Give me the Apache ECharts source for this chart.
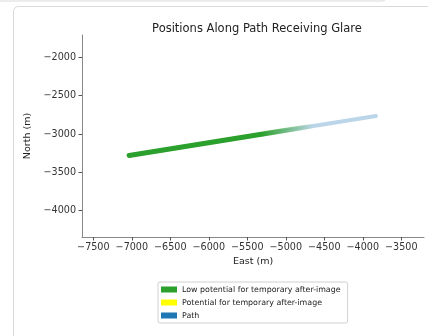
<!DOCTYPE html>
<html>
<head>
<meta charset="utf-8">
<script src="https://cdn.jsdelivr.net/npm/echarts@6/dist/echarts.min.js"></script>
<style>
html,body{margin:0;padding:0;background:#fff;}
#c{width:428px;height:336px;}
</style>
</head>
<body>
<div id="c"></div>
<script>
// ---- data ----
const pathEast = [-7035, -3830];
const pathNorth = [-3280, -2765];
const glareEast = [-7035, -4670];
const glareNorth = [-3280, -2900];
const potentialEast = [];
const potentialNorth = [];
const xTicks = [-7500, -7000, -6500, -6000, -5500, -5000, -4500, -4000, -3500];
const yTicks = [-4000, -3500, -3000, -2500, -2000];
const seriesNames = ['Low potential for temporary after-image', 'Potential for temporary after-image', 'Path'];
const seriesColors = ['#2ca02c', '#ffff00', '#1f77b4'];

const zip = (a, b) => a.map((v, i) => [v, b[i]]);
const fmt = v => String(v).replace('-', '\u2212');
const FONT = 'DejaVu Sans';

const chart = echarts.init(document.getElementById('c'), null, {renderer: 'canvas'});
chart.setOption({
  animation: false,
  backgroundColor: '#fff',
  textStyle: {fontFamily: FONT},
  graphic: [
    {type: 'rect', shape: {x: -20, y: -30, width: 407, height: 31, r: 5}, style: {fill: 'none', stroke: '#d9d9d9', lineWidth: 1}, silent: true},
    {type: 'rect', shape: {x: 13.5, y: 6.5, width: 440, height: 360, r: 5}, style: {fill: 'none', stroke: '#d9d9d9', lineWidth: 1}, silent: true}
  ],
  title: {
    text: 'Positions Along Path Receiving Glare',
    left: 252, top: 18, textAlign: 'center',
    textStyle: {fontFamily: FONT, fontSize: 11.5, fontWeight: 'normal', color: '#222'}
  },
  grid: {left: 82, top: 35, right: 4, bottom: 99},
  legend: {
    orient: 'vertical', left: 158, top: 282,
    data: seriesNames,
    icon: 'rect', itemWidth: 16, itemHeight: 6, itemGap: 4,
    padding: [3, 7, 3, 3],
    borderColor: '#d0d0d0', borderWidth: 1, borderRadius: 2,
    textStyle: {fontFamily: FONT, fontSize: 7.9, lineHeight: 9, color: '#222'},
    selectedMode: false
  },
  xAxis: {
    type: 'value', min: -7647, max: -3205,
    name: 'East (m)', nameLocation: 'middle', nameGap: 20,
    nameTextStyle: {fontFamily: FONT, fontSize: 9.5, color: '#222'},
    axisLine: {show: true, lineStyle: {color: '#888', width: 1}},
    axisTick: {show: true, length: 3.5, customValues: xTicks, lineStyle: {color: '#555'}},
    axisLabel: {customValues: xTicks, formatter: fmt, fontFamily: FONT, fontSize: 9.6, color: '#333', margin: 5},
    splitLine: {show: false}
  },
  yAxis: {
    type: 'value', min: -4343, max: -1709,
    name: 'North (m)', nameLocation: 'middle', nameGap: 41, nameRotate: 90,
    nameTextStyle: {fontFamily: FONT, fontSize: 9.5, color: '#222'},
    axisLine: {show: true, lineStyle: {color: '#888', width: 1}},
    axisTick: {show: true, length: 3.5, customValues: yTicks, lineStyle: {color: '#555'}},
    axisLabel: {customValues: yTicks, formatter: fmt, fontFamily: FONT, fontSize: 9.6, color: '#333', margin: 6},
    splitLine: {show: false}
  },
  series: [
    {
      name: seriesNames[2], type: 'line', data: zip(pathEast, pathNorth),
      showSymbol: false, silent: true, z: 2,
      itemStyle: {color: seriesColors[2]},
      lineStyle: {color: 'rgba(31,119,180,0.3)', width: 4, cap: 'round'}
    },
    {
      name: seriesNames[1], type: 'line', data: zip(potentialEast, potentialNorth),
      showSymbol: false, silent: true, z: 3,
      itemStyle: {color: seriesColors[1]},
      lineStyle: {color: seriesColors[1], width: 5}
    },
    {
      name: seriesNames[0], type: 'line', data: zip(glareEast, glareNorth),
      showSymbol: false, silent: true, z: 4,
      itemStyle: {color: seriesColors[0]},
      lineStyle: {
        width: 5, cap: 'round',
        color: new echarts.graphic.LinearGradient(0, 0, 1, 0, [
          {offset: 0, color: 'rgba(44,160,44,1)'},
          {offset: 0.72, color: 'rgba(44,160,44,1)'},
          {offset: 1, color: 'rgba(44,160,44,0)'}
        ])
      }
    }
  ]
});
</script>
</body>
</html>
